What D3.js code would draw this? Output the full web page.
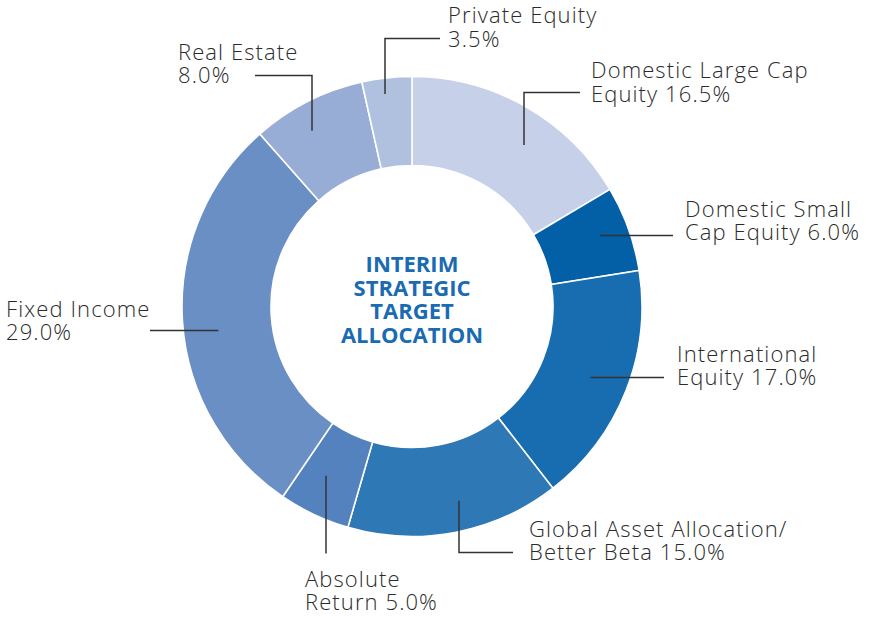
<!DOCTYPE html>
<html>
<head>
<meta charset="utf-8">
<script src="https://cdn.jsdelivr.net/npm/d3@7"></script>
<style>
  html, body { margin: 0; padding: 0; background: #fff; }
  .lbl { font-family: "Open Sans", Lato, sans-serif; font-weight: 300; font-size: 22px; letter-spacing: 1.1px; fill: #2b2b2b; }
  .ttl { font-family: "Open Sans", sans-serif; font-weight: 700; font-size: 22px; fill: #1a6bb2; }
</style>
</head>
<body>
<div class="donut"></div>
<script>
// chart data
const categories = ["Domestic Large Cap Equity", "Domestic Small Cap Equity", "International Equity",
                    "Global Asset Allocation/ Better Beta", "Absolute Return", "Fixed Income",
                    "Real Estate", "Private Equity"];
const values = [16.5, 6.0, 17.0, 15.0, 5.0, 29.0, 8.0, 3.5];
const labelLines = [["Domestic Large Cap", "Equity "], ["Domestic Small", "Cap Equity "],
                    ["International", "Equity "], ["Global Asset Allocation/", "Better Beta "],
                    ["Absolute", "Return "], ["Fixed Income", ""], ["Real Estate", ""],
                    ["Private Equity", ""]];
const colors = ["#c6d1e9", "#035fa6", "#186cb0", "#2f78b6", "#5482bf", "#6a8fc5", "#98add5", "#b0c1df"];
const title = ["INTERIM", "STRATEGIC", "TARGET", "ALLOCATION"];

const width = 871, height = 618;
const cx = 412, cy = 306.5, outerR = 230, innerR = 141;

const svg = d3.select(".donut")
              .append("svg")
              .attr("width", width)
              .attr("height", height);

const g = svg.append("g")
             .attr("transform", "translate(" + cx + "," + cy + ")");

const pie = d3.pie().sort(null).value(d => d.v);
const arc = d3.arc().innerRadius(innerR).outerRadius(outerR);

const arcs = pie(values.map((v, i) => ({ v: v, name: categories[i], i: i })));

g.selectAll(".slice")
 .data(arcs).enter()
 .append("path")
 .attr("class", "slice")
 .attr("d", arc)
 .attr("fill", d => colors[d.data.i])
 .attr("stroke", "#fff")
 .attr("stroke-width", 1.6);

// leader layout (relative to center): start is at angle t within the slice, radius r,
// first leg is vertical (v) or horizontal, then runs through pts; text goes at tx, ty
const leaders = [
  { t: 0.55, r: 192, v: true,  pts: [[112, -214], [168, -214]], tx: 179, ty: -228.5 },
  { t: 0.5,  r: 200, v: false, pts: [[261, -71]], tx: 273, ty: -90 },
  { t: 0.5,  r: 192, v: false, pts: [[252, 71]], tx: 265, ty: 55 },
  { t: 0.6,  r: 195, v: true,  pts: [[47, 246], [101, 246]], tx: 117, ty: 230 },
  { t: 0.6,  r: 190, v: true,  pts: [[-86, 247]], tx: -107, ty: 280 },
  { t: 0.5,  r: 194, v: false, pts: [[-262, 24]], tx: -406, ty: 10 },
  { t: 0.45, r: 200, v: true,  pts: [[-100, -231], [-157, -231]], tx: -234, ty: -247 },
  { t: 0.45, r: 214, v: true,  pts: [[-27, -268], [28, -268]], tx: 36, ty: -283.5 }
];

arcs.forEach((d, i) => {
  const L = leaders[i];
  const a = d.startAngle + (d.endAngle - d.startAngle) * L.t;
  let sx = Math.sin(a) * L.r, sy = -Math.cos(a) * L.r;
  // snap start onto the first leg so lines stay straight
  if (L.v) sx = L.pts[0][0];
  else sy = L.pts[0][1];
  g.append("path")
   .attr("d", d3.line()([[sx, sy]].concat(L.pts)))
   .attr("fill", "none")
   .attr("stroke", "#333")
   .attr("stroke-width", 1.5);

  const pct = d3.format(".1f")(d.data.v) + "%";
  const lines = labelLines[i];
  const txt = g.append("text").attr("class", "lbl");
  txt.append("tspan").attr("x", L.tx).attr("y", L.ty).text(lines[0]);
  txt.append("tspan").attr("x", L.tx).attr("y", L.ty + 23.5).text(lines[1] + pct);
});

title.forEach((s, i) => {
  g.append("text")
   .attr("class", "ttl")
   .attr("text-anchor", "middle")
   .attr("x", 0)
   .attr("y", -34.5 + i * 23.7)
   .text(s);
});
</script>
</body>
</html>
